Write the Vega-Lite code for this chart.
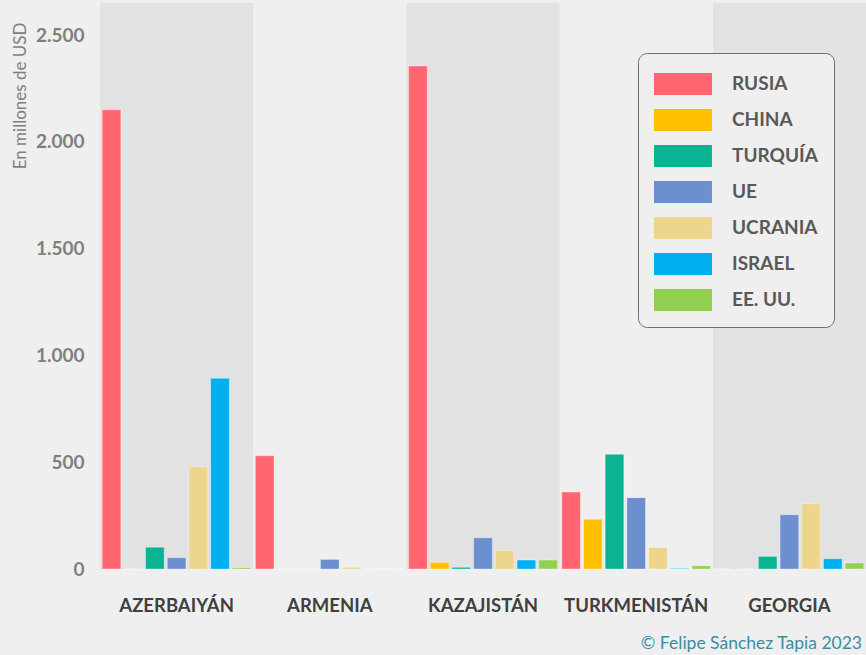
{
  "$schema": "https://vega.github.io/schema/vega-lite/v6.json",
  "width": 766,
  "height": 566,
  "autosize": "none",
  "padding": {"left": 100, "top": 3, "right": 0, "bottom": 86},
  "background": "#EFEFEF",
  "config": {
    "font": "Lato",
    "view": {"stroke": null},
    "axis": {"labelFont": "Lato", "titleFont": "Lato"},
    "legend": {"labelFont": "Lato", "titleFont": "Lato"}
  },
  "title": {
    "text": "© Felipe Sánchez Tapia 2023",
    "orient": "bottom",
    "anchor": "end",
    "fontSize": 17.5,
    "fontWeight": "normal",
    "color": "#3B8EA0",
    "offset": 20,
    "dx": -4
  },
  "datasets": {
    "bars": [
      {"pais": "AZERBAIYÁN", "socio": "RUSIA", "valor": 2150},
      {"pais": "AZERBAIYÁN", "socio": "CHINA", "valor": 0},
      {"pais": "AZERBAIYÁN", "socio": "TURQUÍA", "valor": 102},
      {"pais": "AZERBAIYÁN", "socio": "UE", "valor": 53},
      {"pais": "AZERBAIYÁN", "socio": "UCRANIA", "valor": 479},
      {"pais": "AZERBAIYÁN", "socio": "ISRAEL", "valor": 893},
      {"pais": "AZERBAIYÁN", "socio": "EE. UU.", "valor": 6},
      {"pais": "ARMENIA", "socio": "RUSIA", "valor": 530},
      {"pais": "ARMENIA", "socio": "CHINA", "valor": 0},
      {"pais": "ARMENIA", "socio": "TURQUÍA", "valor": 0},
      {"pais": "ARMENIA", "socio": "UE", "valor": 45},
      {"pais": "ARMENIA", "socio": "UCRANIA", "valor": 8},
      {"pais": "ARMENIA", "socio": "ISRAEL", "valor": 0},
      {"pais": "ARMENIA", "socio": "EE. UU.", "valor": 0},
      {"pais": "KAZAJISTÁN", "socio": "RUSIA", "valor": 2355},
      {"pais": "KAZAJISTÁN", "socio": "CHINA", "valor": 31},
      {"pais": "KAZAJISTÁN", "socio": "TURQUÍA", "valor": 8},
      {"pais": "KAZAJISTÁN", "socio": "UE", "valor": 146},
      {"pais": "KAZAJISTÁN", "socio": "UCRANIA", "valor": 87},
      {"pais": "KAZAJISTÁN", "socio": "ISRAEL", "valor": 42},
      {"pais": "KAZAJISTÁN", "socio": "EE. UU.", "valor": 42},
      {"pais": "TURKMENISTÁN", "socio": "RUSIA", "valor": 360},
      {"pais": "TURKMENISTÁN", "socio": "CHINA", "valor": 233},
      {"pais": "TURKMENISTÁN", "socio": "TURQUÍA", "valor": 537},
      {"pais": "TURKMENISTÁN", "socio": "UE", "valor": 334},
      {"pais": "TURKMENISTÁN", "socio": "UCRANIA", "valor": 101},
      {"pais": "TURKMENISTÁN", "socio": "ISRAEL", "valor": 3},
      {"pais": "TURKMENISTÁN", "socio": "EE. UU.", "valor": 15},
      {"pais": "GEORGIA", "socio": "RUSIA", "valor": 0},
      {"pais": "GEORGIA", "socio": "CHINA", "valor": 0},
      {"pais": "GEORGIA", "socio": "TURQUÍA", "valor": 59},
      {"pais": "GEORGIA", "socio": "UE", "valor": 254},
      {"pais": "GEORGIA", "socio": "UCRANIA", "valor": 306},
      {"pais": "GEORGIA", "socio": "ISRAEL", "valor": 48},
      {"pais": "GEORGIA", "socio": "EE. UU.", "valor": 28}
    ],
    "bands": [
      {"pais": "AZERBAIYÁN", "sombra": 1},
      {"pais": "ARMENIA", "sombra": 0},
      {"pais": "KAZAJISTÁN", "sombra": 1},
      {"pais": "TURKMENISTÁN", "sombra": 0},
      {"pais": "GEORGIA", "sombra": 1}
    ]
  },
  "layer": [
    {
      "data": {"name": "bands"},
      "mark": {"type": "rect", "fill": "#000000"},
      "encoding": {
        "x": {
          "field": "pais",
          "type": "nominal",
          "sort": null,
          "scale": {"paddingInner": 0, "paddingOuter": 0},
          "axis": {
            "title": null,
            "domain": false,
            "ticks": false,
            "labelAngle": 0,
            "labelPadding": 27,
            "labelFontSize": 18.5,
            "labelFontWeight": "bold",
            "labelColor": "#404040"
          }
        },
        "y": {"datum": 2650, "type": "quantitative"},
        "y2": {"datum": 0},
        "opacity": {"condition": {"test": "datum.sombra == 1", "value": 0.05}, "value": 0}
      }
    },
    {
      "data": {"name": "bars"},
      "mark": {"type": "bar", "stroke": "#ffffff", "strokeOpacity": 0.35, "strokeWidth": 1},
      "encoding": {
        "x": {"field": "pais", "type": "nominal", "sort": null},
        "xOffset": {
          "field": "socio",
          "type": "nominal",
          "sort": ["RUSIA", "CHINA", "TURQUÍA", "UE", "UCRANIA", "ISRAEL", "EE. UU."],
          "scale": {"paddingInner": 0.14, "paddingOuter": 0.1}
        },
        "y": {
          "field": "valor",
          "type": "quantitative",
          "scale": {"domain": [0, 2650], "nice": false},
          "axis": {
            "values": [0, 500, 1000, 1500, 2000, 2500],
            "labelExpr": "replace(format(datum.value, ','), ',', '.')",
            "domain": false,
            "ticks": false,
            "labelPadding": 16,
            "labelFontSize": 19,
            "labelFontWeight": "bold",
            "labelColor": "#7F7F7F",
            "gridColor": "#D4D4D4",
            "gridWidth": 1.5,
            "gridOpacity": 1,
            "title": "En millones de USD",
            "titleFontSize": 17,
            "titleFontWeight": "normal",
            "titleColor": "#7F7F7F",
            "titleAngle": 270,
            "titleAlign": "right",
            "titleBaseline": "middle",
            "titleX": -80,
            "titleY": 19
          }
        },
        "fill": {
          "field": "socio",
          "type": "nominal",
          "sort": ["RUSIA", "CHINA", "TURQUÍA", "UE", "UCRANIA", "ISRAEL", "EE. UU."],
          "scale": {
            "domain": ["RUSIA", "CHINA", "TURQUÍA", "UE", "UCRANIA", "ISRAEL", "EE. UU."],
            "range": ["#FF6670", "#FFC000", "#0AB493", "#6B8FCF", "#EDD68C", "#00B0F0", "#92D050"]
          },
          "legend": {
            "title": " ",
            "titleFontSize": 4,
            "titlePadding": 0,
            "orient": "none",
            "legendX": 538,
            "legendY": 50,
            "symbolType": "M-1,-1H4.27V1H-1Z",
            "symbolSize": 484,
            "symbolStrokeWidth": 0,
            "symbolOpacity": 1,
            "labelOffset": 56,
            "labelFontSize": 19,
            "labelFontWeight": "bold",
            "labelColor": "#595959",
            "labelExpr": "datum.label + '\u00a0\u00a0\u00a0'",
            "rowPadding": 14,
            "padding": 16,
            "cornerRadius": 9,
            "strokeColor": "#6E6E6E",
            "fillColor": "#EFEFEF"
          }
        }
      }
    }
  ]
}
